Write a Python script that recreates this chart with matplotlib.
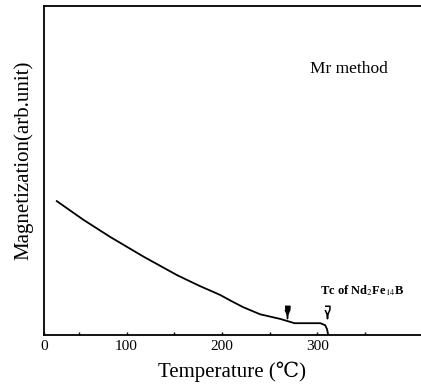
import matplotlib
matplotlib.use("Agg")
import matplotlib.pyplot as plt

plt.rcParams['font.family'] = ['Liberation Serif', 'DejaVu Serif']
plt.rcParams['mathtext.fontset'] = 'stix'

# magnetization curve
temp = [27, 55, 83, 118, 153, 176, 198, 210, 222, 240, 261, 276, 290, 303, 308, 310, 311, 312]
mag = [0.407, 0.350, 0.298, 0.238, 0.182, 0.150, 0.122, 0.103, 0.085, 0.063, 0.049, 0.036, 0.036, 0.036, 0.030, 0.018, 0.003, 0.0]

xticks = [13.6, 100, 200, 300]
xticklabels = ['0', '100', '200', '300']
minor_ticks = [50, 150, 250, 350]

arrow_filled = (268, 0.07)
arrow_open = (310, 0.07)

fig = plt.figure(figsize=(4.21, 3.86), dpi=100)
ax = fig.add_axes([0.1045, 0.132, 0.8955, 0.8525])

ax.plot(temp, mag, color='black', lw=1.3)

pin = [(-0.4, 1.0), (0.4, 1.0), (0.38, 0.4), (0.1, -0.2), (0.0, -1.0), (-0.1, -0.2), (-0.38, 0.4)]
ax.plot(*arrow_filled, marker=pin, markersize=9, color='black')
ax.plot(*arrow_open, marker=pin, markersize=9, markerfacecolor='white',
        markeredgecolor='black', markeredgewidth=1.1)

ax.set_xlim(13.6, 408.4)
ax.set_ylim(0, 1.0)
ax.set_xticks(xticks)
ax.set_xticklabels(xticklabels, fontsize=11)
ax.set_xticks(minor_ticks, minor=True)
ax.tick_params(axis='x', which='both', direction='in', length=2.5, width=1)
ax.set_yticks([])
ax.spines['right'].set_visible(False)
for s in ['left', 'bottom', 'top']:
    ax.spines[s].set_linewidth(1.3)

ax.set_xlabel('Temperature (℃)', fontsize=15, labelpad=6)
ax.set_ylabel('Magnetization(arb.unit)', fontsize=15)
ax.yaxis.set_label_coords(-0.027, 0.53)

ax.text(292, 0.81, 'Mr method', fontsize=12.5, va='center')
ax.text(303, 0.135, 'Tc of Nd$_2$Fe$_{14}$B', fontsize=9, va='center', fontweight='bold')

fig.savefig('out.png', dpi=100)
